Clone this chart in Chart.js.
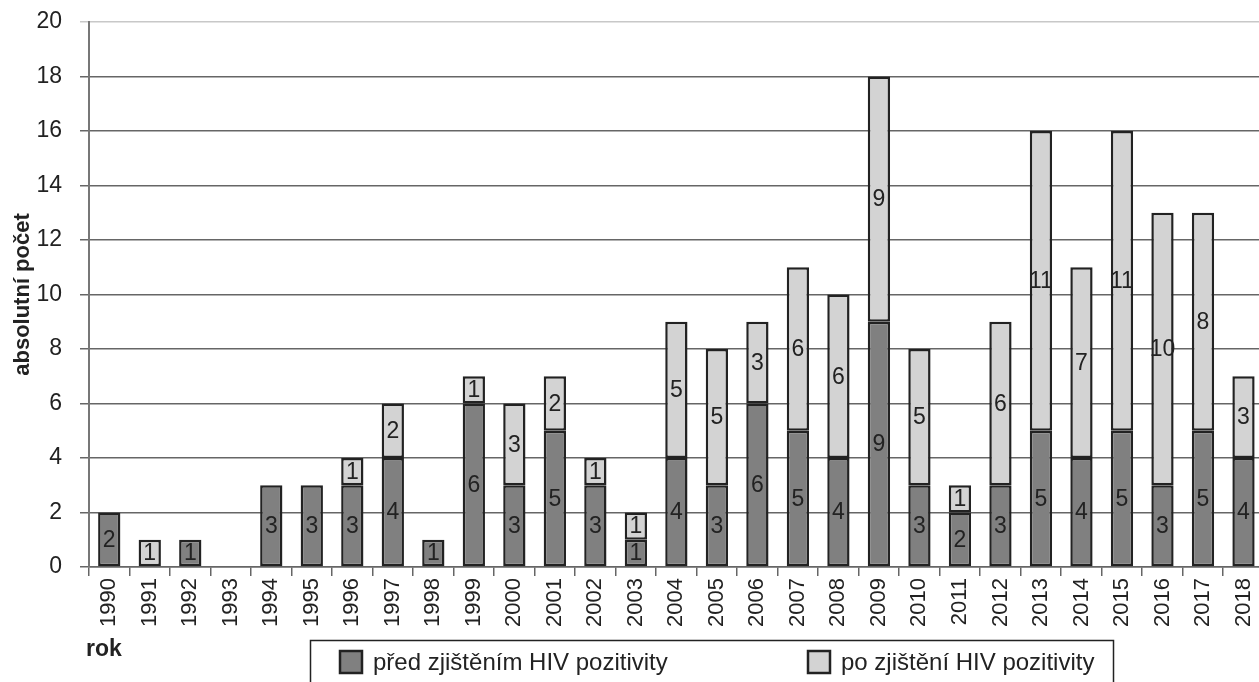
<!DOCTYPE html>
<html>
<head>
<meta charset="utf-8">
<script src="https://cdn.jsdelivr.net/npm/chart.js@4"></script>
<style>
  html, body { margin: 0; padding: 0; background: #fff; overflow: hidden; }
  #wrap { width: 1272px; height: 682px; position: relative; }
</style>
</head>
<body>
<div id="wrap"><canvas id="hivChart"></canvas></div>
<script>
'use strict';

var years = ['1990', '1991', '1992', '1993', '1994', '1995', '1996', '1997', '1998', '1999',
    '2000', '2001', '2002', '2003', '2004', '2005', '2006', '2007', '2008', '2009',
    '2010', '2011', '2012', '2013', '2014', '2015', '2016', '2017', '2018'];
var predZjistenim = [2, 0, 1, 0, 3, 3, 3, 4, 1, 6, 3, 5, 3, 1, 4, 3, 6, 5, 4, 9, 3, 2, 3, 5, 4, 5, 3, 5, 4];
var poZjisteni = [0, 1, 0, 0, 0, 0, 1, 2, 0, 1, 3, 2, 1, 1, 5, 5, 3, 6, 6, 9, 5, 1, 6, 11, 7, 11, 10, 8, 3];
var seriesNames = ['před zjištěním HIV pozitivity', 'po zjištění HIV pozitivity'];
var yTicks = [0, 2, 4, 6, 8, 10, 12, 14, 16, 18, 20];

const FONT = 'Liberation Sans, Arial, sans-serif';

// numbers inside each bar segment
const segmentLabels = {
    id: 'segmentLabels',
    afterDatasetsDraw(chart) {
        const ctx = chart.ctx;
        ctx.save();
        ctx.font = '23px ' + FONT;
        ctx.fillStyle = '#222';
        ctx.textAlign = 'center';
        ctx.textBaseline = 'middle';
        chart.data.datasets.forEach((ds, i) => {
            chart.getDatasetMeta(i).data.forEach((bar, j) => {
                const v = ds.data[j];
                if (!v) return;
                ctx.fillText(String(v), bar.x, (bar.y + bar.base) / 2 + 1);
            });
        });
        ctx.restore();
    }
};

// boxed legend + "rok" caption
const boxLegend = {
    id: 'boxLegend',
    afterDraw(chart) {
        const ctx = chart.ctx;
        ctx.save();
        ctx.strokeStyle = '#222';
        ctx.lineWidth = 1.5;
        ctx.strokeRect(310.5, 640.5, 803, 60);

        const items = [
            { x: 340, text: seriesNames[0], color: chart.data.datasets[0].backgroundColor },
            { x: 808, text: seriesNames[1], color: chart.data.datasets[1].backgroundColor }
        ];
        items.forEach((it) => {
            ctx.fillStyle = it.color;
            ctx.fillRect(it.x, 651, 22, 22);
            ctx.lineWidth = 2.5;
            ctx.strokeStyle = '#222';
            ctx.strokeRect(it.x, 651, 22, 22);
            ctx.fillStyle = '#222';
            ctx.font = '24px ' + FONT;
            ctx.textAlign = 'left';
            ctx.textBaseline = 'middle';
            ctx.fillText(it.text, it.x + 33, 663);
        });

        ctx.font = 'bold 23px ' + FONT;
        ctx.fillStyle = '#222';
        ctx.textAlign = 'left';
        ctx.textBaseline = 'middle';
        ctx.fillText('rok', 86, 650);
        ctx.restore();
    }
};

new Chart(document.getElementById('hivChart'), {
    type: 'bar',
    data: {
        labels: years,
        datasets: [
            {
                label: seriesNames[0],
                data: predZjistenim,
                backgroundColor: '#808080',
                borderColor: '#222',
                borderWidth: 2.5,
                borderSkipped: false,
                barPercentage: 0.55,
                categoryPercentage: 1.0
            },
            {
                label: seriesNames[1],
                data: poZjisteni,
                backgroundColor: '#d3d3d3',
                borderColor: '#222',
                borderWidth: 2.5,
                borderSkipped: false,
                barPercentage: 0.55,
                categoryPercentage: 1.0
            }
        ]
    },
    options: {
        responsive: true,
        maintainAspectRatio: false,
        animation: false,
        layout: { padding: { top: 22, right: 6, left: 0, bottom: 0 } },
        scales: {
            x: {
                stacked: true,
                afterFit: function (scale) { scale.height = 115; },
                grid: {
                    display: true,
                    drawOnChartArea: false,
                    drawTicks: true,
                    tickLength: 9,
                    color: '#666',
                    lineWidth: 1.5,
                    offset: true
                },
                border: { display: true, color: '#666', width: 1.5 },
                ticks: {
                    color: '#222',
                    font: { family: FONT, size: 22 },
                    minRotation: 90,
                    maxRotation: 90,
                    autoSkip: false,
                    padding: 2
                }
            },
            y: {
                stacked: true,
                min: 0,
                max: 20,
                afterFit: function (scale) {
                    scale.width = 89;
                    scale.paddingTop = 0;
                    scale.paddingBottom = 0;
                },
                afterBuildTicks: function (scale) {
                    scale.ticks = yTicks.map((v) => ({ value: v }));
                },
                grid: {
                    color: function (c) { return c.tick && c.tick.value === 20 ? '#c8c8c8' : '#666'; },
                    lineWidth: 1.5,
                    tickLength: 9,
                    drawTicks: true
                },
                border: { display: true, color: '#777', width: 2 },
                ticks: {
                    color: '#222',
                    font: { family: FONT, size: 23 },
                    padding: 18
                },
                title: {
                    display: true,
                    text: 'absolutní počet',
                    color: '#222',
                    font: { family: FONT, size: 22, weight: 'bold' },
                    padding: { top: 10, bottom: 0 }
                }
            }
        },
        plugins: {
            legend: { display: false },
            tooltip: { enabled: false }
        }
    },
    plugins: [segmentLabels, boxLegend]
});
</script>
</body>
</html>
